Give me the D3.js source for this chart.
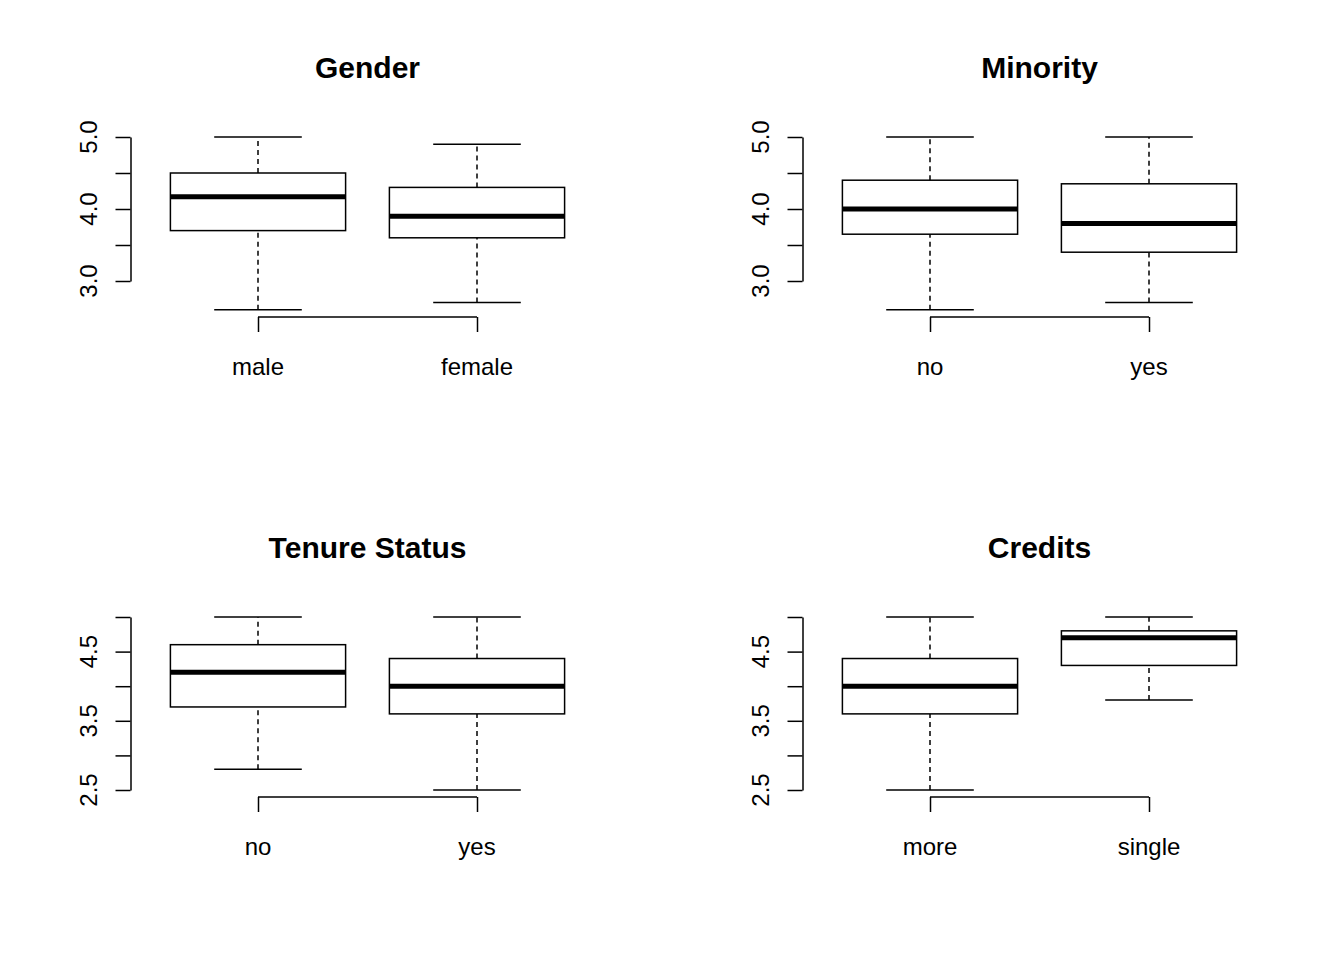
<!DOCTYPE html>
<html><head><meta charset="utf-8">
<script src="https://cdn.jsdelivr.net/npm/d3@7"></script>
<style>body{margin:0;background:#fff}text{font-family:"Liberation Sans",Arial,sans-serif}</style>
</head><body>
<script>
// box stats: [low whisker, Q1, median, Q3, high whisker]
var genderCats = ["male", "female"];
var genderStats = [[2.6, 3.7, 4.17, 4.5, 5.0], [2.7, 3.6, 3.9, 4.3, 4.9]];
var minorityCats = ["no", "yes"];
var minorityStats = [[2.6, 3.65, 4.0, 4.4, 5.0], [2.7, 3.4, 3.8, 4.35, 5.0]];
var tenureCats = ["no", "yes"];
var tenureStats = [[2.8, 3.7, 4.2, 4.6, 5.0], [2.5, 3.6, 4.0, 4.4, 5.0]];
var creditsCats = ["more", "single"];
var creditsStats = [[2.5, 3.6, 4.0, 4.4, 5.0], [3.8, 4.3, 4.7, 4.8, 5.0]];
var topTicks = [3.0, 3.5, 4.0, 4.5, 5.0], topLabels = [3.0, 4.0, 5.0];
var botTicks = [2.5, 3.0, 3.5, 4.0, 4.5, 5.0], botLabels = [2.5, 3.5, 4.5];

var svg = d3.select("body").append("svg").attr("width", 1344).attr("height", 960);

function panel(title, cats, stats, ox, oy, domain, pxRange, ticks, labels) {
  var x = d3.scaleLinear().domain([0.5, 2.5]).range([ox, ox + 438]);
  var y = d3.scaleLinear().domain(domain).range(pxRange);
  var u = x(1) - x(0);
  var g = svg.append("g");
  g.append("text").attr("x", x(1.5)).attr("y", pxRange[1] - 59).attr("text-anchor", "middle")
    .style("font-size", "30px").style("font-weight", "bold").text(title);
  // y axis
  var ya = g.append("g").attr("transform", "translate(" + (ox - 18) + ",0)")
    .call(d3.axisLeft(y).tickValues(ticks).tickSize(15).tickSizeOuter(0).tickFormat(""));
  ya.selectAll("path,line").attr("stroke", "#000").attr("stroke-width", 1.5);
  labels.forEach(function (v) {
    g.append("text").attr("transform", "translate(" + (ox - 52) + "," + y(v) + ") rotate(-90)")
      .attr("text-anchor", "middle").style("font-size", "24px").text(v.toFixed(1));
  });
  // x axis
  var xy = pxRange[0] + 36 + (domain[0] === 2.5 ? -29 : 0);
  xy = y(domain[0]) + 36 - (domain[0] === 2.5 ? 29 : 0);
  var xa = g.append("g").attr("transform", "translate(0," + xy + ")")
    .call(d3.axisBottom(x).tickValues([1, 2]).tickSize(15).tickSizeOuter(0).tickFormat(""));
  xa.select("path").attr("d", "M" + x(1) + ",0H" + x(2));
  xa.selectAll("path,line").attr("stroke", "#000").attr("stroke-width", 1.5);
  cats.forEach(function (c, i) {
    g.append("text").attr("x", x(i + 1)).attr("y", xy + 58).attr("text-anchor", "middle")
      .style("font-size", "24px").text(c);
  });
  stats.forEach(function (s, i) {
    var cx = x(i + 1);
    g.append("line").attr("x1", cx).attr("x2", cx).attr("y1", y(s[0])).attr("y2", y(s[1]))
      .attr("stroke", "#000").attr("stroke-width", 1.5).attr("stroke-dasharray", "5,4");
    g.append("line").attr("x1", cx).attr("x2", cx).attr("y1", y(s[3])).attr("y2", y(s[4]))
      .attr("stroke", "#000").attr("stroke-width", 1.5).attr("stroke-dasharray", "5,4");
    [s[0], s[4]].forEach(function (v) {
      g.append("line").attr("x1", cx - 0.2 * u).attr("x2", cx + 0.2 * u).attr("y1", y(v)).attr("y2", y(v))
        .attr("stroke", "#000").attr("stroke-width", 1.5);
    });
    g.append("rect").attr("x", cx - 0.4 * u).attr("width", 0.8 * u).attr("y", y(s[3]))
      .attr("height", y(s[1]) - y(s[3])).attr("fill", "none").attr("stroke", "#000").attr("stroke-width", 1.5);
    g.append("line").attr("x1", cx - 0.4 * u).attr("x2", cx + 0.4 * u).attr("y1", y(s[2])).attr("y2", y(s[2]))
      .attr("stroke", "#000").attr("stroke-width", 5);
  });
}

panel("Gender", genderCats, genderStats, 148.5, 0, [3, 5], [281, 137], topTicks, topLabels);
panel("Minority", minorityCats, minorityStats, 820.5, 0, [3, 5], [281, 137], topTicks, topLabels);
panel("Tenure Status", tenureCats, tenureStats, 148.5, 0, [2.5, 5], [790, 617], botTicks, botLabels);
panel("Credits", creditsCats, creditsStats, 820.5, 0, [2.5, 5], [790, 617], botTicks, botLabels);
</script>
</body></html>
